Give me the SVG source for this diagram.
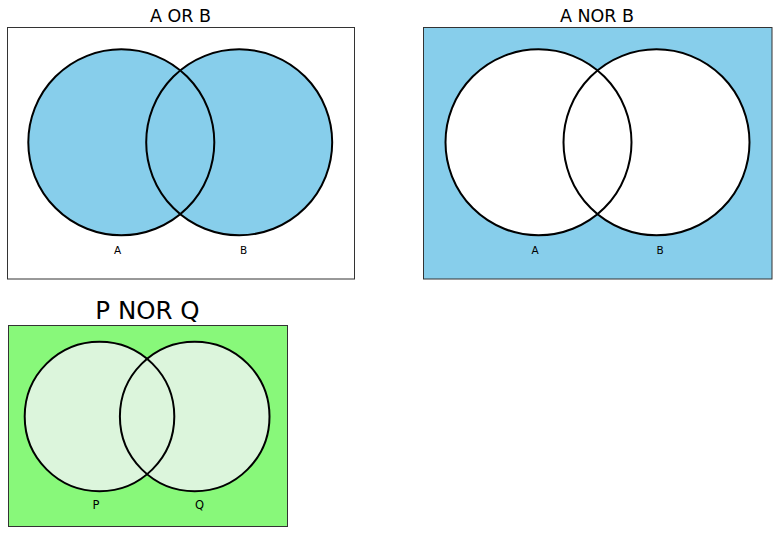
<svg xmlns="http://www.w3.org/2000/svg" width="782" height="543" viewBox="0 0 782 543">
<style>
.title{font-family:"DejaVu Sans",sans-serif;fill:#000;text-anchor:middle}
.lbl{font-family:"DejaVu Sans",sans-serif;fill:#000;text-anchor:middle;font-size:10.5px}
.lbl2{font-family:"DejaVu Sans",sans-serif;fill:#000;text-anchor:middle;font-size:11.5px}
.frame{stroke:#333;stroke-width:1}
.c{stroke:#000;stroke-width:2;fill:none}
</style>
<rect width="782" height="543" fill="#fff"/>
<g id="panel-or">
<text class="title" x="180.5" y="22" font-size="17.5">A OR B</text>
<rect class="frame" x="7.5" y="27.5" width="347" height="251.5" fill="#fff"/>
<circle cx="121.3" cy="142.3" r="93" fill="#87CEEB"/>
<circle cx="239.2" cy="142.3" r="93" fill="#87CEEB"/>
<circle class="c" cx="121.3" cy="142.3" r="93"/>
<circle class="c" cx="239.2" cy="142.3" r="93"/>
<text class="lbl" x="117.5" y="254">A</text>
<text class="lbl" x="243.5" y="254">B</text>
</g>
<g id="panel-nor">
<text class="title" x="597" y="22" font-size="17.5">A NOR B</text>
<rect class="frame" x="423.5" y="27.5" width="348.5" height="251.5" fill="#87CEEB"/>
<circle cx="538.5" cy="142.3" r="93" fill="#fff"/>
<circle cx="656.5" cy="142.3" r="93" fill="#fff"/>
<circle class="c" cx="538.5" cy="142.3" r="93"/>
<circle class="c" cx="656.5" cy="142.3" r="93"/>
<text class="lbl" x="535" y="254">A</text>
<text class="lbl" x="660" y="254">B</text>
</g>
<g id="panel-pq">
<text class="title" x="147.5" y="318.5" font-size="24.5">P NOR Q</text>
<rect class="frame" x="8.5" y="325.5" width="279" height="201" fill="#88F87A"/>
<circle cx="99.5" cy="416.5" r="74.8" fill="#DCF5DC"/>
<circle cx="194.7" cy="416.5" r="74.8" fill="#DCF5DC"/>
<circle class="c" cx="99.5" cy="416.5" r="74.8"/>
<circle class="c" cx="194.7" cy="416.5" r="74.8"/>
<text class="lbl2" x="96" y="509">P</text>
<text class="lbl2" x="199.5" y="509">Q</text>
</g>
</svg>
